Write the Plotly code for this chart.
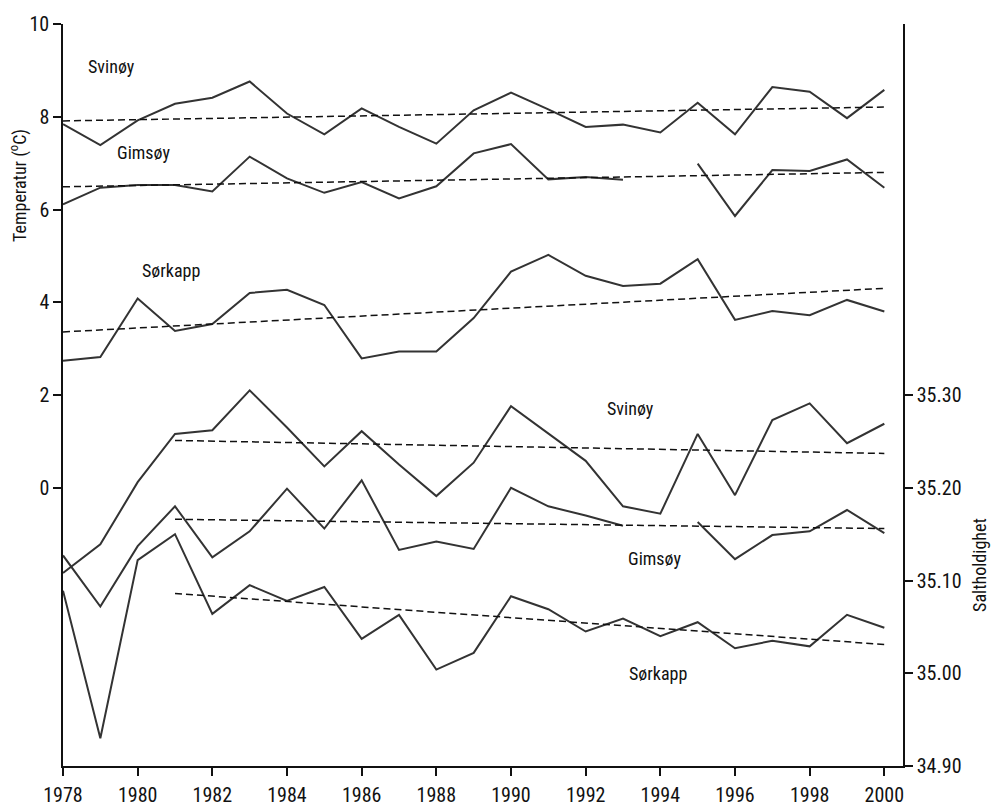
import plotly.graph_objects as go

years = list(range(1978, 2001))

# Temperature (left axis, °C)
svinoy_temp = [7.84, 7.39, 7.92, 8.28, 8.41, 8.76, 8.07, 7.62, 8.18, 7.78, 7.42, 8.14,
               8.52, 8.16, 7.78, 7.83, 7.66, 8.30, 7.62, 8.64, 8.54, 7.97, 8.58]
gimsoy_temp = [6.11, 6.47, 6.53, 6.53, 6.39, 7.14, 6.67, 6.36, 6.59, 6.24, 6.50, 7.21,
               7.41, 6.65, 6.70, 6.64, None, 6.99, 5.86, 6.85, 6.83, 7.08, 6.47]
sorkapp_temp = [2.74, 2.82, 4.08, 3.38, 3.53, 4.20, 4.27, 3.94, 2.79, 2.94, 2.94, 3.66,
                4.66, 5.02, 4.57, 4.35, 4.40, 4.93, 3.62, 3.81, 3.72, 4.05, 3.80]

# Salinity (right axis)
svinoy_sal = [35.108, 35.139, 35.206, 35.258, 35.262, 35.305, 35.265, 35.223, 35.261, 35.225,
              35.191, 35.227, 35.288, 35.258, 35.229, 35.180, 35.172, 35.258, 35.192, 35.273,
              35.291, 35.248, 35.269]
gimsoy_sal = [35.127, 35.072, 35.137, 35.180, 35.125, 35.153, 35.199, 35.156, 35.208, 35.133,
              35.142, 35.134, 35.200, 35.180, 35.170, 35.159, None, 35.163, 35.123, 35.149,
              35.153, 35.176, 35.151]
sorkapp_sal = [35.089, 34.930, 35.122, 35.150, 35.064, 35.095, 35.078, 35.093, 35.037, 35.063,
               35.004, 35.022, 35.083, 35.069, 35.045, 35.059, 35.040, 35.055, 35.027, 35.035,
               35.029, 35.063, 35.049]

# Trend line end points
temp_trend_x = [1978, 2000]
svinoy_temp_trend = [7.91, 8.21]
gimsoy_temp_trend = [6.49, 6.80]
sorkapp_temp_trend = [3.36, 4.30]
sal_trend_x = [1981, 2000]
svinoy_sal_trend = [35.251, 35.237]
gimsoy_sal_trend = [35.166, 35.156]
sorkapp_sal_trend = [35.086, 35.031]

left_ticks = [0, 2, 4, 6, 8, 10]
right_ticks = [34.90, 35.00, 35.10, 35.20, 35.30]
x_ticks = list(range(1978, 2001, 2))

FONT = "Roboto Condensed, DejaVu Sans, sans-serif"
TXT = "#111111"
LINE = dict(color="#333333", width=2)
DASH = dict(color="#111111", width=1.5, dash="7px,4px")

fig = go.Figure()
for series in (svinoy_temp, gimsoy_temp, sorkapp_temp):
    fig.add_trace(go.Scatter(x=years, y=series, mode="lines", line=LINE,
                             connectgaps=False, yaxis="y"))
for series in (svinoy_temp_trend, gimsoy_temp_trend, sorkapp_temp_trend):
    fig.add_trace(go.Scatter(x=temp_trend_x, y=series, mode="lines", line=DASH, yaxis="y"))
for series in (svinoy_sal, gimsoy_sal, sorkapp_sal):
    fig.add_trace(go.Scatter(x=years, y=series, mode="lines", line=LINE,
                             connectgaps=False, yaxis="y2"))
for series in (svinoy_sal_trend, gimsoy_sal_trend, sorkapp_sal_trend):
    fig.add_trace(go.Scatter(x=sal_trend_x, y=series, mode="lines", line=DASH, yaxis="y2"))

labels = [
    ("Svinøy", 1979.29, 9.09),
    ("Gimsøy", 1980.17, 7.22),
    ("Sørkapp", 1980.89, 4.68),
    ("Svinøy", 1993.19, 1.70),
    ("Gimsøy", 1993.86, -1.53),
    ("Sørkapp", 1993.94, -4.01),
]
annotations = [dict(text=t, x=x, y=y, xref="x", yref="y", showarrow=False,
                    xanchor="center", yanchor="middle",
                    font=dict(family=FONT, size=18, color=TXT))
               for t, x, y in labels]
annotations.append(dict(text="Temperatur (<sup>o</sup>C)", x=-0.0536, y=0.783,
                        xref="paper", yref="paper", showarrow=False, textangle=-90,
                        xanchor="center", yanchor="middle",
                        font=dict(family=FONT, size=18, color=TXT)))
annotations.append(dict(text="Saltholdighet", x=1.0917, y=0.271,
                        xref="paper", yref="paper", showarrow=False, textangle=-90,
                        xanchor="center", yanchor="middle",
                        font=dict(family=FONT, size=18, color=TXT)))

axis_common = dict(showgrid=False, zeroline=False, showline=True, linecolor=TXT,
                   linewidth=1.5, ticks="outside", ticklen=8, tickwidth=1.5,
                   tickcolor=TXT, automargin=False,
                   tickfont=dict(family=FONT, size=20, color=TXT))

fig.update_layout(
    width=992, height=807,
    margin=dict(l=63, r=89, t=24, b=41),
    paper_bgcolor="white", plot_bgcolor="white",
    showlegend=False,
    font=dict(family=FONT, color=TXT),
    xaxis=dict(range=[1978, 2000.5], tickvals=x_ticks, ticklabelstandoff=2, **axis_common),
    yaxis=dict(range=[-6, 10], tickvals=left_ticks, **axis_common),
    yaxis2=dict(range=[34.90, 35.70], tickvals=right_ticks, tickformat=".2f",
                overlaying="y", side="right", **axis_common),
    annotations=annotations,
)

# Remove the default 8px page margin so the 992x807 figure fills the window exactly.
fig.write_html("out.html", config={"displayModeBar": False},
               post_script="document.body.style.margin='0';")
